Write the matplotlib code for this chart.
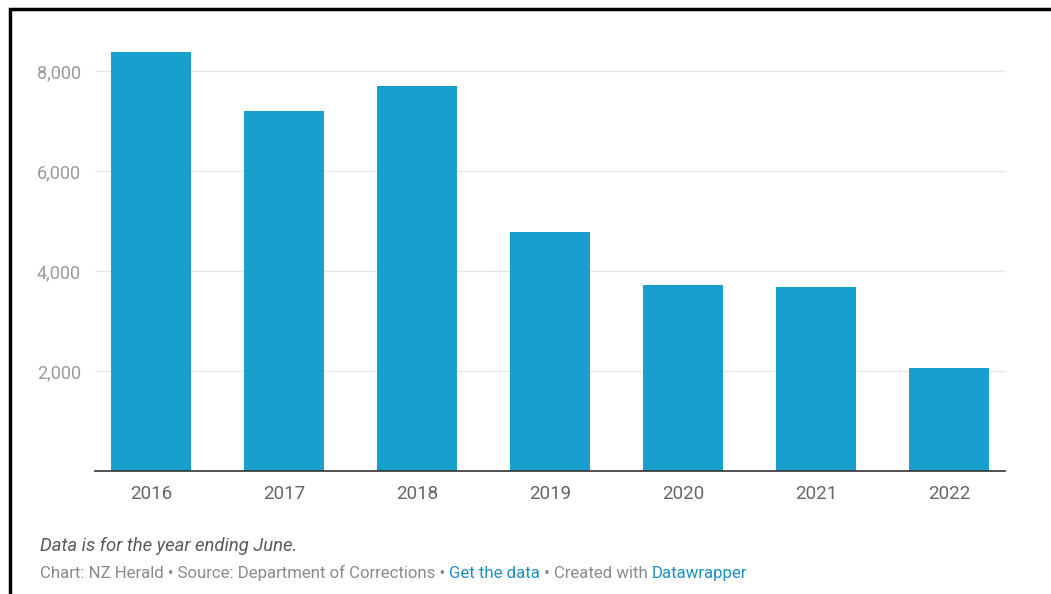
import matplotlib
matplotlib.use("Agg")
import matplotlib.pyplot as plt
from matplotlib.patches import Rectangle

years = ["2016", "2017", "2018", "2019", "2020", "2021", "2022"]
values = [8380, 7200, 7700, 4780, 3720, 3680, 2060]
yticks = [2000, 4000, 6000, 8000]
ytick_labels = ["2,000", "4,000", "6,000", "8,000"]

plt.rcParams['font.family'] = ['Roboto', 'DejaVu Sans']

W, H = 1051, 594
fig = plt.figure(figsize=(W / 100, H / 100), dpi=100)
fig.patch.set_facecolor('white')

# axes: x 95..1005, y baseline 471, 8000 at 71
ax = fig.add_axes([95 / W, 1 - 471 / H, 910 / W, 460 / H])
x = list(range(len(years)))
ax.bar(x, values, width=0.6, color='#189fcd', zorder=3)
ax.set_xlim(-0.42, 6.42)
ax.set_ylim(0, 9200)
ax.set_yticks(yticks)
ax.set_yticklabels(ytick_labels)
ax.set_xticks(x)
ax.set_xticklabels(years)
ax.grid(axis='y', color='#e6e6e6', linewidth=1, zorder=0)
for s in ['top', 'right', 'left']:
    ax.spines[s].set_visible(False)
ax.spines['bottom'].set_color('#333333')
ax.spines['bottom'].set_linewidth(1.2)
ax.spines['bottom'].set_zorder(4)
ax.tick_params(axis='y', length=0, pad=10, labelsize=13, labelcolor='#9a9a9a')
ax.tick_params(axis='x', length=0, pad=10, labelsize=13.5, labelcolor='#666666')

fig.text(40 / W, 1 - 551 / H, "Data is for the year ending June.", fontsize=13.3,
         style='italic', color='#5a5a5a', ha='left', va='baseline')

# credits line with coloured links
parts = [("Chart: NZ Herald \u2022 Source: Department of Corrections \u2022 ", '#8a8a8a'),
         ("Get the data", '#1d8fc7'),
         (" \u2022 Created with ", '#8a8a8a'),
         ("Datawrapper", '#1d8fc7')]
fig.canvas.draw()
renderer = fig.canvas.get_renderer()
xpos = 40 / W
for txt, col in parts:
    t = fig.text(xpos, 1 - 578 / H, txt, fontsize=12.1, color=col, ha='left', va='baseline')
    bb = t.get_window_extent(renderer=renderer)
    xpos += bb.width / W

# black frame (left and top edges visible)
fig.patches.append(Rectangle((9.5 / W, -0.1), 1.2, 1 - 9.5 / H + 0.1, transform=fig.transFigure,
                             fill=False, edgecolor='black', linewidth=2.5))

fig.savefig("out.png", dpi=100, facecolor='white')
